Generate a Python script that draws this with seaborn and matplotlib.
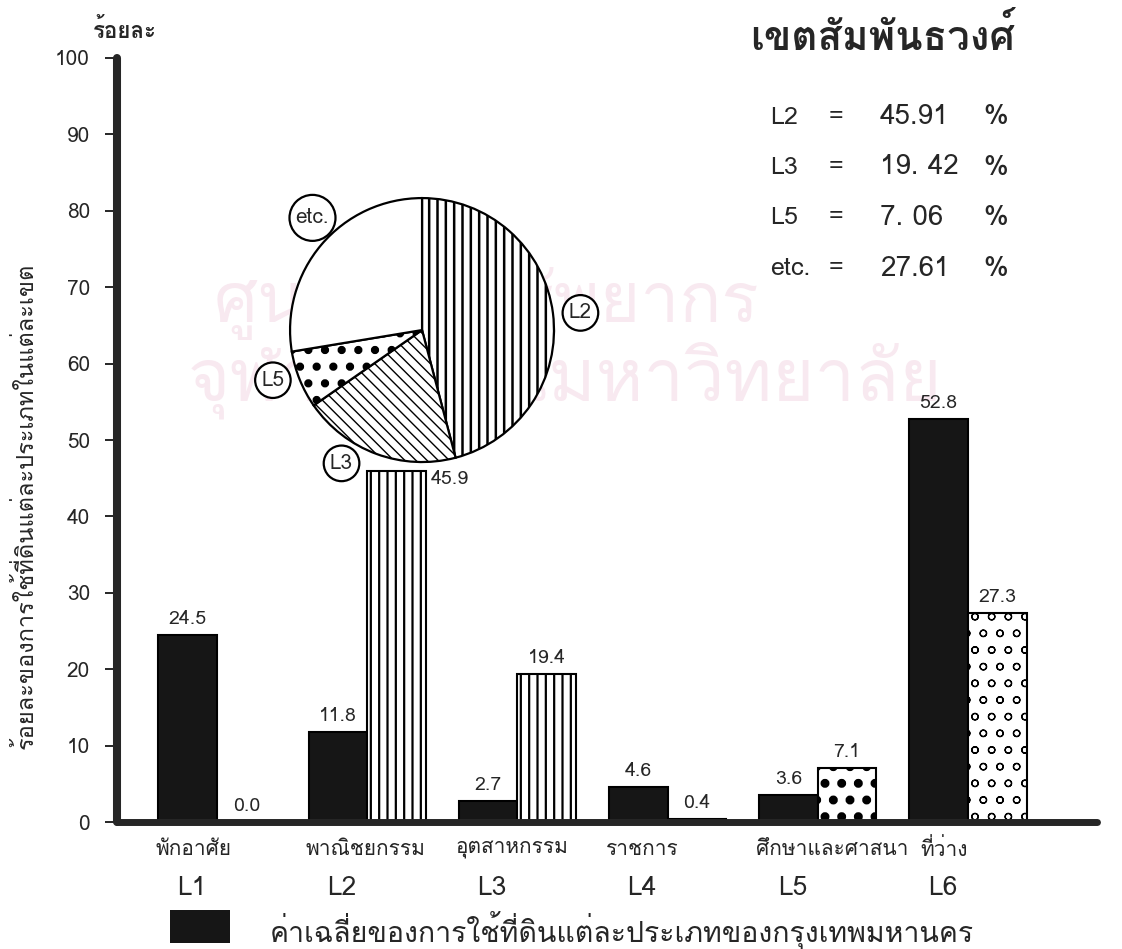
import pandas as pd
import matplotlib
matplotlib.use('Agg')
import matplotlib.pyplot as plt
import seaborn as sns
from matplotlib import font_manager
from matplotlib.ft2font import FT2Font
from matplotlib.patches import Rectangle

# ข้อมูลจากแผนภูมิ
zones = ['L1', 'L2', 'L3', 'L4', 'L5', 'L6']
land_use = ['พักอาศัย', 'พาณิชยกรรม', 'อุตสาหกรรม', 'ราชการ', 'ศึกษาและศาสนา', 'ที่ว่าง']
bkk_avg = [24.5, 11.8, 2.7, 4.6, 3.6, 52.8]      # ค่าเฉลี่ยกรุงเทพฯ (แท่งดำ)
district = [0.0, 45.9, 19.4, 0.4, 7.1, 27.3]     # เขตสัมพันธวงศ์

pie_labels = ['L2', 'L3', 'L5', 'etc.']
pie_values = [45.91, 19.42, 7.06, 27.61]
pie_text = ['45.91', '19. 42', '7. 06', '27.61']

# ลวดลายของแท่งและชิ้นวงกลม
bar_hatch = ['', '||', '||', '', '.', 'o']
bar_hatch_lw = [1.6, 1.6, 1.6, 1.6, 4.0, 0.9]
pie_hatch = ['||', '\\\\\\', '.', '']
pie_hatch_lw = [1.8, 1.0, 3.5, 1.0]
name_shift = [0, 0, 0, 0, 0, 0.09]


def thai_font():
    for f in font_manager.fontManager.ttflist:
        try:
            if 0x0E01 in FT2Font(f.fname).get_charmap():
                return f.name
        except Exception:
            pass
    return None


sns.set_style('white')
th = thai_font()
plt.rcParams['font.family'] = [th, 'DejaVu Sans'] if th else ['DejaVu Sans']
plt.rcParams['hatch.linewidth'] = 1.6

fig = plt.figure(figsize=(11.22, 9.49), dpi=100)
ax = fig.add_axes([0.1043, 0.1338, 0.8734, 0.8051])

df = pd.DataFrame({
    'zone': zones * 2,
    'value': bkk_avg + district,
    'series': ['bkk'] * 6 + ['district'] * 6,
})
sns.barplot(data=df, x='zone', y='value', hue='series',
            palette={'bkk': '#161616', 'district': 'white'},
            width=0.78, saturation=1, legend=False, ax=ax,
            edgecolor='black', linewidth=1.5)

for p, h, lw in zip(ax.containers[1], bar_hatch, bar_hatch_lw):
    p.set_hatch(h)
    if hasattr(p, 'set_hatch_linewidth'):
        p.set_hatch_linewidth(lw)

ax.set_xlim(-0.666, 5.859)
ax.set_ylim(0, 100)
ax.set_yticks(range(0, 101, 10))
ax.set_xticks([])
ax.set_xlabel('')
ax.set_ylabel('')
ax.tick_params(axis='y', direction='out', length=8.5, width=1.4, pad=11, labelsize=15, left=True)
for s in ['top', 'right']:
    ax.spines[s].set_visible(False)
ax.spines['left'].set_linewidth(5.8)
ax.spines['bottom'].set_linewidth(5.0)
ax.spines['left'].set_capstyle('round')
ax.spines['bottom'].set_capstyle('round')
ax.patch.set_alpha(0)

# ค่าบนแท่ง
ax.bar_label(ax.containers[0], fmt='%.1f', padding=5, fontsize=14)
lab2 = ['%.1f' % v for v in district]
lab2[1] = ''
ax.bar_label(ax.containers[1], labels=lab2, padding=5, fontsize=14)
p = ax.containers[1][1]
ax.text(p.get_x() + p.get_width() + 0.03, p.get_height() - 1.0, '%.1f' % district[1],
        ha='left', va='center', fontsize=14)

# ป้ายหมวดหมู่ใต้แกน
tr = ax.get_xaxis_transform()
for i, (name, z) in enumerate(zip(land_use, zones)):
    ax.text(i - 0.41 + name_shift[i], -0.036, name, transform=tr, ha='left', va='center',
            fontsize=15)
    ax.text(i - 0.17, -0.087, z, transform=tr, ha='center', va='center', fontsize=19)

# ลายน้ำ
fig.text(486 / 1122, 1 - 294 / 949, 'ศูนย์วิทยทรัพยากร', fontsize=50, color='#f8e9f0',
         ha='center', va='center', zorder=-1)
fig.text(565 / 1122, 1 - 372 / 949, 'จุฬาลงกรณ์มหาวิทยาลัย', fontsize=52, color='#f8e9f0',
         ha='center', va='center', zorder=-1)

# แกน y
fig.text(26 / 1122, 1 - 506 / 949, 'ร้อยละของการใช้ที่ดินแต่ละประเภทในแต่ละเขต',
         rotation=90, ha='center', va='center', fontsize=17)
fig.text(125 / 1122, 1 - 30 / 949, 'ร้อยละ', ha='center', va='center', fontsize=16,
         fontweight='bold')

# ชื่อเขตและสัดส่วน
fig.text(750 / 1122, 1 - 37 / 949, 'เขตสัมพันธวงศ์', fontsize=29, fontweight='bold',
         ha='left', va='center')
for k, (lab, t) in enumerate(zip(pie_labels, pie_text)):
    y = 1 - (117 + 50.5 * k) / 949
    fig.text(770 / 1122, y, lab, fontsize=18, ha='left', va='center')
    fig.text(836 / 1122, y, '=', fontsize=18, ha='center', va='center')
    fig.text(880 / 1122, y, t, fontsize=20, ha='left', va='center')
    fig.text(983 / 1122, y, '%', fontsize=20, ha='left', va='center')

# แผนภูมิวงกลม
axp = fig.add_axes([0.2232, 0.4714, 0.3059, 0.3616])
wedges, _ = axp.pie(pie_values, startangle=90, counterclock=False,
                    colors=['white'] * 4,
                    wedgeprops=dict(edgecolor='black', linewidth=1.6))
for w, h, lw in zip(wedges, pie_hatch, pie_hatch_lw):
    w.set_hatch(h)
    if hasattr(w, 'set_hatch_linewidth'):
        w.set_hatch_linewidth(lw)
axp.set_xlim(-1.3, 1.3)
axp.set_ylim(-1.3, 1.3)
axp.set_aspect('equal')
axp.axis('off')
label_pos = [(1.2, 0.13), (-0.61, -1.01), (-1.13, -0.38), (-0.83, 0.85)]
for (x, y), lab in zip(label_pos, pie_labels):
    axp.text(x, y, lab, ha='center', va='center', fontsize=15, clip_on=False,
             bbox=dict(boxstyle='circle,pad=0.3', fc='white', ec='black', lw=1.6))

# คำอธิบายสัญลักษณ์
fig.patches.append(Rectangle((170 / 1122, 1 - 943 / 949), 60 / 1122, 33 / 949,
                             transform=fig.transFigure, fc='#161616', ec='none'))
fig.text(270 / 1122, 1 - 930 / 949, 'ค่าเฉลี่ยของการใช้ที่ดินแต่ละประเภทของกรุงเทพมหานคร',
         fontsize=20.5, ha='left', va='center')

fig.savefig('out.png', dpi=100)
